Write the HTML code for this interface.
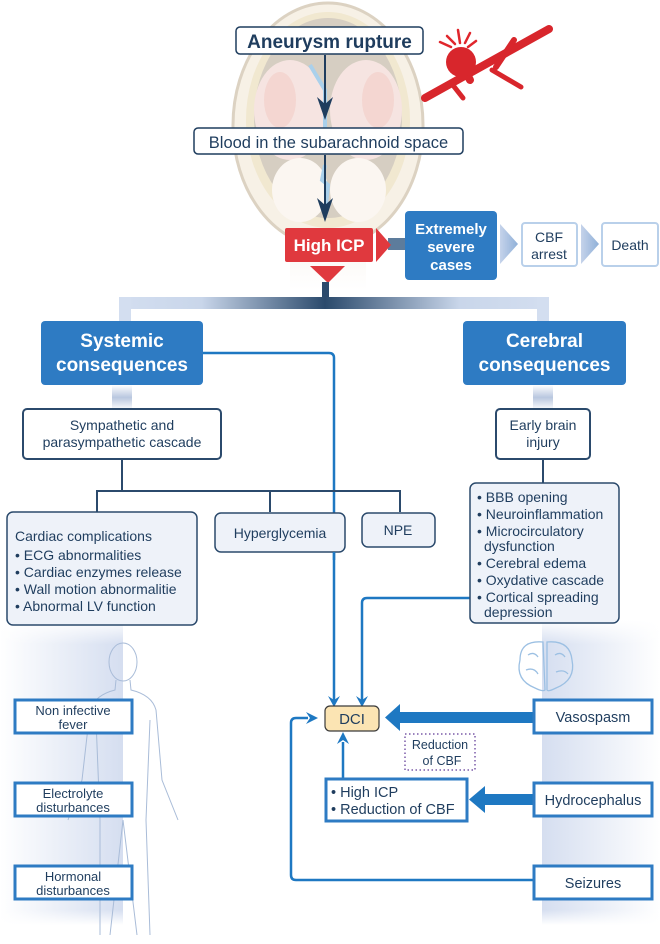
<!DOCTYPE html>
<html><head><meta charset="utf-8"><style>
html,body{margin:0;padding:0;background:#fff;}
svg{display:block;font-family:"Liberation Sans",Arial,sans-serif;}
</style></head><body>
<svg width="660" height="944" viewBox="0 0 660 944" xmlns="http://www.w3.org/2000/svg">
<defs>
<linearGradient id="bandL" x1="0" x2="1" y1="0" y2="0"><stop offset="0" stop-color="#fff"/><stop offset="1" stop-color="#d5def0"/></linearGradient>
<linearGradient id="bandR" x1="0" x2="1" y1="0" y2="0"><stop offset="0" stop-color="#d5def0"/><stop offset="1" stop-color="#fff"/></linearGradient>
<linearGradient id="barL" x1="0" x2="1"><stop offset="0" stop-color="#d3def0"/><stop offset="0.4" stop-color="#c9d6ea"/><stop offset="1" stop-color="#2b4a6c"/></linearGradient>
<linearGradient id="barR" x1="0" x2="1"><stop offset="0" stop-color="#2b4a6c"/><stop offset="0.6" stop-color="#c9d6ea"/><stop offset="1" stop-color="#d3def0"/></linearGradient>
<linearGradient id="vfade" x1="0" x2="0" y1="0" y2="1"><stop offset="0" stop-color="#fff"/><stop offset="0.5" stop-color="#b9c7df"/><stop offset="1" stop-color="#fff"/></linearGradient>
<linearGradient id="chev" x1="0" x2="1"><stop offset="0" stop-color="#c5d3ea"/><stop offset="1" stop-color="#8fb0d8"/></linearGradient>
<linearGradient id="bandFadeV" x1="0" x2="0" y1="0" y2="1"><stop offset="0" stop-color="#fff" stop-opacity="1"/><stop offset="0.08" stop-color="#fff" stop-opacity="0"/><stop offset="0.95" stop-color="#fff" stop-opacity="0"/><stop offset="1" stop-color="#fff" stop-opacity="1"/></linearGradient>
<linearGradient id="neck" x1="0" x2="0" y1="0" y2="1"><stop offset="0" stop-color="#f3ede4"/><stop offset="1" stop-color="#fff"/></linearGradient>
</defs>

<!-- head illustration -->
<g opacity="0.85">
<path d="M290 200 L290 290 L366 290 L366 200 Z" fill="url(#neck)"/>
<ellipse cx="328" cy="125" rx="95" ry="122" fill="#f6efe2" stroke="#d6cbb8" stroke-width="3"/>
<ellipse cx="328" cy="120" rx="82" ry="108" fill="#efe4c8"/>
<ellipse cx="328" cy="118" rx="74" ry="100" fill="#cfc6b8"/>
<ellipse cx="290" cy="110" rx="36" ry="50" fill="#f5e0dc"/>
<ellipse cx="366" cy="110" rx="36" ry="50" fill="#f5e0dc"/>
<ellipse cx="280" cy="100" rx="16" ry="28" fill="#f1c4be" opacity="0.6"/>
<ellipse cx="378" cy="100" rx="16" ry="28" fill="#f1c4be" opacity="0.6"/>
<ellipse cx="300" cy="190" rx="28" ry="32" fill="#fbf5ef"/>
<ellipse cx="358" cy="190" rx="28" ry="32" fill="#fbf5ef"/>
<path d="M310 65 L325 90 L325 130" stroke="#9cc8e8" stroke-width="4" fill="none"/>
<path d="M325 165 L322 180 L328 185 L325 215" stroke="#9cc8e8" stroke-width="4" fill="none"/>
</g>

<!-- aneurysm vessel -->
<g stroke="#d8262c" stroke-linecap="round" fill="none">
<path d="M425 98 L549 29" stroke-width="8"/>
<path d="M496 67 L514 40" stroke-width="6"/>
<path d="M492 70 L521 87" stroke-width="5"/>
<path d="M452 84 L463 98" stroke-width="5"/>
<path d="M461 62 L470 80" stroke-width="8"/>
</g>
<circle cx="461" cy="62" r="15" fill="#d8262c"/>
<g stroke="#e0262c" stroke-width="2.5" stroke-linecap="round">
<line x1="455" y1="44" x2="447" y2="36"/><line x1="460" y1="43" x2="458" y2="30"/><line x1="465" y1="43" x2="470" y2="33"/><line x1="468" y1="47" x2="476" y2="41"/><line x1="451" y1="47" x2="440" y2="42"/>
</g>

<!-- top arrows -->
<g fill="#1f3d5e" stroke="#1f3d5e">
<line x1="325" y1="55" x2="325" y2="105" stroke-width="2"/>
<path d="M317 97 L325 120 L333 97 L325 104 Z" stroke="none"/>
<line x1="325" y1="155" x2="325" y2="205" stroke-width="2"/>
<path d="M317 198 L325 222 L333 198 L325 205 Z" stroke="none"/>
</g>

<rect x="236" y="27" width="187" height="27" rx="4" fill="#fff" stroke="#1f3d5e" stroke-width="1.5"/>
<text x="329.5" y="48" text-anchor="middle" font-size="19" font-weight="bold" fill="#1f3d5e">Aneurysm rupture</text>
<rect x="194" y="128" width="269" height="26" rx="4" fill="#fff" stroke="#1f3d5e" stroke-width="1.5"/>
<text x="328.5" y="148" text-anchor="middle" font-size="16.5" fill="#1f3d5e">Blood in the subarachnoid space</text>

<!-- High ICP -->
<rect x="388" y="238" width="20" height="12" fill="#5d7c9c"/>
<rect x="285" y="228" width="88" height="34" rx="2" fill="#e0393e"/>
<path d="M376 228 L391 245 L376 262 Z" fill="#e0393e"/>
<path d="M310 266 L345 266 L328 283 Z" fill="#e0393e"/>
<text x="329" y="251" text-anchor="middle" font-size="17" font-weight="bold" fill="#fff">High ICP</text>
<rect x="405" y="211" width="92" height="69" rx="4" fill="#2e7bc3"/>
<text x="451" y="234" text-anchor="middle" font-size="15" font-weight="bold" fill="#fff">Extremely</text>
<text x="451" y="252" text-anchor="middle" font-size="15" font-weight="bold" fill="#fff">severe</text>
<text x="451" y="270" text-anchor="middle" font-size="15" font-weight="bold" fill="#fff">cases</text>
<path d="M500 224 L518 244 L500 264 Z" fill="url(#chev)"/>
<rect x="522" y="223" width="55" height="43" rx="3" fill="#fff" stroke="#b9d0ea" stroke-width="2"/>
<text x="549" y="242" text-anchor="middle" font-size="14" fill="#1f3d5e">CBF</text>
<text x="549" y="259" text-anchor="middle" font-size="14" fill="#1f3d5e">arrest</text>
<path d="M581 224 L599 244 L581 264 Z" fill="url(#chev)"/>
<rect x="602" y="223" width="56" height="43" rx="3" fill="#fff" stroke="#b9d0ea" stroke-width="2"/>
<text x="630" y="250" text-anchor="middle" font-size="14" fill="#1f3d5e">Death</text>

<!-- distribution bar -->
<rect x="322" y="282" width="7" height="18" fill="#2b4a6c"/>
<rect x="119" y="297" width="206" height="12" fill="url(#barL)"/>
<rect x="325" y="297" width="224" height="12" fill="url(#barR)"/>
<rect x="119" y="297" width="12" height="24" fill="#d3def0"/>
<rect x="537" y="297" width="12" height="24" fill="#d3def0"/>

<!-- faint verticals -->
<rect x="112" y="385" width="20" height="25" fill="url(#vfade)"/>
<rect x="533" y="385" width="20" height="25" fill="url(#vfade)"/>

<!-- side bands -->
<rect x="0" y="620" width="123" height="305" fill="url(#bandL)"/>
<rect x="542" y="620" width="118" height="305" fill="url(#bandR)"/>
<rect x="0" y="620" width="660" height="305" fill="url(#bandFadeV)"/>

<!-- human figure -->
<g fill="none" stroke="#a9bcd8" stroke-width="1">
<ellipse cx="123" cy="662" rx="14" ry="19"/>
<path d="M116 680 L115 690 Q95 695 90 710 L82 780 L68 820 M130 680 L131 690 Q152 695 156 710 L162 780 L178 820"/>
<path d="M96 720 L100 820 L100 935 M150 720 L146 820 L150 935 M123 820 L110 935 M123 820 L137 935"/>
</g>

<!-- brain icon -->
<g fill="none" stroke="#9cc0e3" stroke-width="1.3">
<path d="M543 642 Q520 640 520 660 Q515 680 535 688 Q543 692 545 690 Z"/>
<path d="M547 642 Q570 640 572 660 Q576 680 556 688 Q548 692 547 690 Z"/>
<path d="M528 655 q6 -4 10 2 M526 670 q8 -3 12 4 M555 655 q6 -4 10 2 M556 672 q8 -3 12 2"/>
</g>

<!-- Systemic / Cerebral -->
<rect x="41" y="321" width="162" height="64" rx="4" fill="#2e7bc3"/>
<text x="122" y="347" text-anchor="middle" font-size="19" font-weight="bold" fill="#fff">Systemic</text>
<text x="122" y="371" text-anchor="middle" font-size="19" font-weight="bold" fill="#fff">consequences</text>
<rect x="463" y="321" width="163" height="64" rx="4" fill="#2e7bc3"/>
<text x="544.5" y="347" text-anchor="middle" font-size="19" font-weight="bold" fill="#fff">Cerebral</text>
<text x="544.5" y="371" text-anchor="middle" font-size="19" font-weight="bold" fill="#fff">consequences</text>

<!-- blue connectors -->
<g fill="none" stroke="#1e78c2" stroke-width="2.5">
<path d="M203 353 L329 353 Q334 353 334 358 L334 700"/>
<path d="M470 598 L367 598 Q362 598 362 603 L362 700"/>
<path d="M533 880 L296 880 Q291 880 291 875 L291 723 Q291 718 296 718 L308 718"/>
<path d="M343 778 L343 742"/>
</g>
<g fill="#1e78c2">
<path d="M328 696 L334 707 L340 696 L334 700Z"/>
<path d="M356 696 L362 707 L368 696 L362 700Z"/>
<path d="M306 712 L318 718 L306 724 L310 718Z"/>
<path d="M337 744 L343 732 L349 744 L343 740Z"/>
<rect x="398" y="712" width="136" height="11"/>
<path d="M400 704 L385 717.5 L400 731 Z"/>
<rect x="483" y="794" width="51" height="11"/>
<path d="M485 786 L469 799.5 L485 813 Z"/>
</g>

<!-- tree -->
<g stroke="#2b4a6c" stroke-width="2" fill="none">
<path d="M122 459 L122 491 M97 512 L97 491 L400 491 L400 512 M270 491 L270 512 M543 459 L543 483"/>
</g>

<rect x="23" y="409" width="198" height="50" rx="4" fill="#fff" stroke="#2b4a6c" stroke-width="2"/>
<text x="122" y="430" text-anchor="middle" font-size="14" fill="#1f3d5e">Sympathetic and</text>
<text x="122" y="447" text-anchor="middle" font-size="14" fill="#1f3d5e">parasympathetic cascade</text>
<rect x="496" y="409" width="94" height="50" rx="4" fill="#fff" stroke="#2b4a6c" stroke-width="2"/>
<text x="543" y="430" text-anchor="middle" font-size="14" fill="#1f3d5e">Early brain</text>
<text x="543" y="447" text-anchor="middle" font-size="14" fill="#1f3d5e">injury</text>

<rect x="7" y="512" width="190" height="113" rx="6" fill="#eef2f9" stroke="#2b4a6c" stroke-width="1.5"/>
<g font-size="14" fill="#1f3d5e">
<text x="15" y="541">Cardiac complications</text>
<text x="15" y="560">• ECG abnormalities</text>
<text x="15" y="577">• Cardiac enzymes release</text>
<text x="15" y="594">• Wall motion abnormalitie</text>
<text x="15" y="611">• Abnormal LV function</text>
</g>
<rect x="215" y="513" width="130" height="39" rx="6" fill="#eef2f9" stroke="#2b4a6c" stroke-width="1.5"/>
<text x="280" y="538" text-anchor="middle" font-size="14" fill="#1f3d5e">Hyperglycemia</text>
<rect x="362" y="513" width="73" height="34" rx="6" fill="#eef2f9" stroke="#2b4a6c" stroke-width="1.5"/>
<text x="398" y="535" text-anchor="middle" font-size="14" fill="#1f3d5e">NPE</text>
<line x1="334" y1="552" x2="334" y2="560" stroke="#1e78c2" stroke-width="2.5"/>

<rect x="470" y="483" width="149" height="140" rx="6" fill="#eef2f9" stroke="#2b4a6c" stroke-width="1.5"/>
<g font-size="14" fill="#1f3d5e">
<text x="477" y="502">• BBB opening</text>
<text x="477" y="519">• Neuroinflammation</text>
<text x="477" y="536">• Microcirculatory</text>
<text x="484" y="551">dysfunction</text>
<text x="477" y="568">• Cerebral edema</text>
<text x="477" y="585">• Oxydative cascade</text>
<text x="477" y="602">• Cortical spreading</text>
<text x="484" y="617">depression</text>
</g>

<!-- left boxes -->
<g fill="#fff" stroke="#2e7bc3" stroke-width="3">
<rect x="15" y="700" width="117" height="33"/>
<rect x="15" y="783" width="117" height="33"/>
<rect x="15" y="866" width="117" height="33"/>
<rect x="534" y="700" width="118" height="33"/>
<rect x="534" y="783" width="118" height="33"/>
<rect x="534" y="866" width="118" height="33"/>
<rect x="326" y="779" width="141" height="42"/>
</g>
<g font-size="13" fill="#1f3d5e" text-anchor="middle">
<text x="73" y="715">Non infective</text><text x="73" y="729">fever</text>
<text x="73" y="798">Electrolyte</text><text x="73" y="812">disturbances</text>
<text x="73" y="881">Hormonal</text><text x="73" y="895">disturbances</text>
</g>
<g font-size="14.5" fill="#1f3d5e" text-anchor="middle">
<text x="593" y="722">Vasospasm</text>
<text x="593" y="805">Hydrocephalus</text>
<text x="593" y="888">Seizures</text>
</g>
<g font-size="14.5" fill="#1f3d5e">
<text x="331" y="797">• High ICP</text>
<text x="331" y="814">• Reduction of CBF</text>
</g>

<rect x="405" y="734" width="70" height="36" fill="#fff" stroke="#7a5aa8" stroke-width="1.5" stroke-dasharray="1.5 2.5"/>
<text x="440" y="749" text-anchor="middle" font-size="12.5" fill="#1f3d5e">Reduction</text>
<text x="442" y="765" text-anchor="middle" font-size="12.5" fill="#1f3d5e">of CBF</text>

<rect x="325" y="706" width="54" height="25" rx="5" fill="#fbe4b3" stroke="#3a3a3a" stroke-width="1.2"/>
<text x="352" y="724" text-anchor="middle" font-size="15" fill="#1f3d5e">DCI</text>
</svg>
</body></html>
